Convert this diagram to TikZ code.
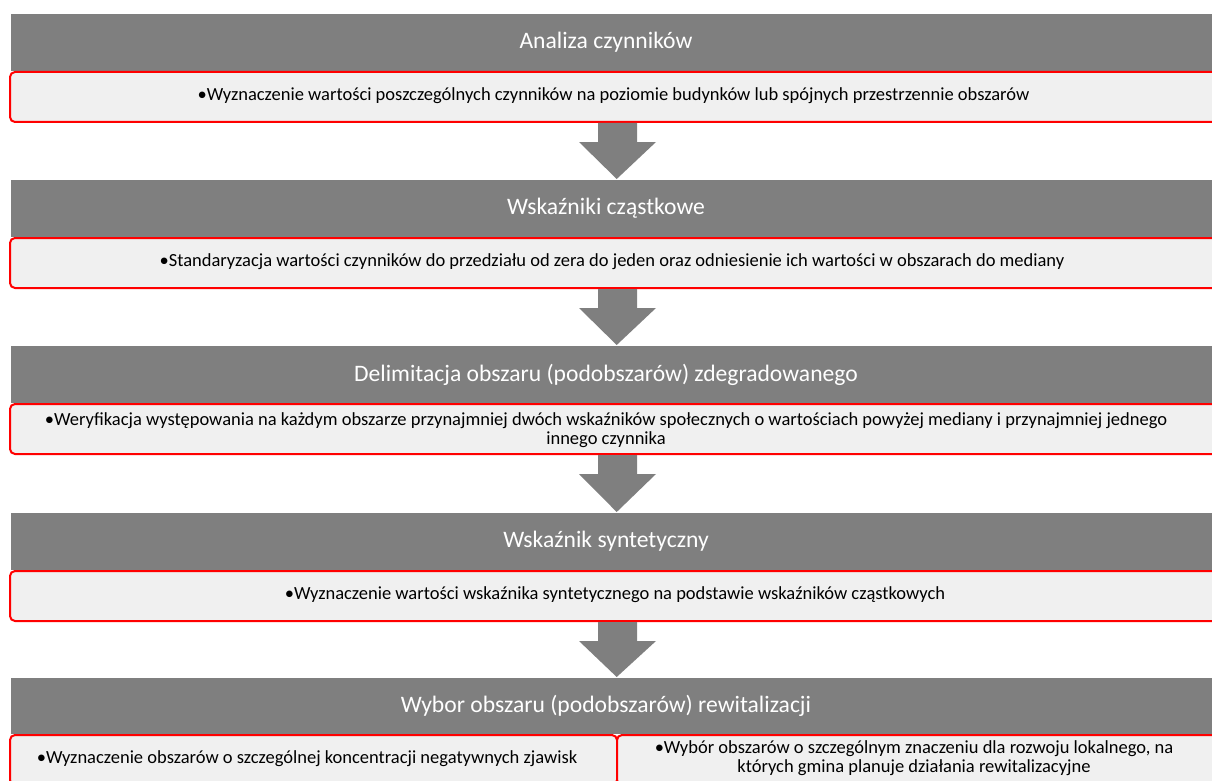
\documentclass[tikz,border=0pt]{standalone}
\usepackage{fontspec}
\setmainfont{Carlito}
\usetikzlibrary{calc}
\definecolor{hdrgray}{HTML}{7F7F7F}
\definecolor{boxfill}{HTML}{F0F0F0}
\definecolor{redline}{HTML}{FF0000}
\tikzset{
  hdr/.style={fill=hdrgray, draw=none, minimum height=57pt, minimum width=1202pt, inner sep=0pt, anchor=north west},
  boxnode/.style={fill=boxfill, draw=redline, line width=2pt, rounded corners=5pt, minimum height=50pt, inner sep=0pt, anchor=north west},
  hdrtxt/.style={text=white, font=\fontsize{23.6}{28}\selectfont, inner sep=0pt},
  boxtxt/.style={text=black, font=\fontsize{18.5}{19}\selectfont, align=center, inner sep=0pt},
  blockarrow/.style={fill=hdrgray, draw=none}
}
\newcommand\blockarr[2]{%
  \fill[blockarrow] ($(#1.south)+(-16.5,0)$) -- ++(0,19) -- ++(-19,0)
    -- ($(#2.north)+(4.5,-1)$) -- ($(#1.south)+(41.5,19)$) -- ++(-19,0)
    -- ++(0,-19) -- cycle;}
\begin{document}
\begin{tikzpicture}[x=1pt,y=-1pt]
\clip (0,0) rectangle (1212,781);
% stage 1
\node[hdr] (h1) at (11,14) {};
\node[boxnode, minimum width=1209pt] (b1) at (9,71) {};
\node[hdrtxt] (t1) at (606,42.5) {Analiza czynników};
\node[boxtxt] (s1) at (613.5,96) {•Wyznaczenie wartości poszczególnych czynników na poziomie budynków lub spójnych przestrzennie obszarów};
% stage 2
\node[hdr] (h2) at (11,180) {};
\node[boxnode, minimum width=1209pt] (b2) at (9,237) {};
\node[hdrtxt] (t2) at (606,208.5) {Wskaźniki cząstkowe};
\node[boxtxt] (s2) at (612,262) {•Standaryzacja wartości czynników do przedziału od zera do jeden oraz odniesienie ich wartości w obszarach do mediany};
% stage 3
\node[hdr] (h3) at (11,346) {};
\node[boxnode, minimum width=1209pt] (b3) at (9,403) {};
\node[hdrtxt] (t3) at (606,374.5) {Delimitacja obszaru (podobszarów) zdegradowanego};
\node[boxtxt] (s3) at (606,430) {•Weryfikacja występowania na każdym obszarze przynajmniej dwóch wskaźników społecznych o wartościach powyżej mediany i przynajmniej jednego\\innego czynnika};
% stage 4
\node[hdr] (h4) at (11,513) {};
\node[boxnode, minimum width=1209pt] (b4) at (9,570) {};
\node[hdrtxt] (t4) at (606,541.5) {Wskaźnik syntetyczny};
\node[boxtxt] (s4) at (615,595) {•Wyznaczenie wartości wskaźnika syntetycznego na podstawie wskaźników cząstkowych};
% stage 5
\node[hdr, minimum height=56pt] (h5) at (11,678) {};
\node[boxnode, minimum width=607pt] (b5l) at (9,734) {};
\node[boxnode, minimum width=602pt] (b5r) at (616,734) {};
\node[hdrtxt] (t5) at (606,706) {Wybor obszaru (podobszarów) rewitalizacji};
\node[boxtxt] (s5l) at (307,759) {•Wyznaczenie obszarów o szczególnej koncentracji negatywnych zjawisk};
\node[boxtxt] (s5r) at (914,758) {•Wybór obszarów o szczególnym znaczeniu dla rozwoju lokalnego, na\\których gmina planuje działania rewitalizacyjne};
% arrows
\blockarr{b1}{h2}
\blockarr{b2}{h3}
\blockarr{b3}{h4}
\blockarr{b4}{h5}
\end{tikzpicture}
\end{document}
